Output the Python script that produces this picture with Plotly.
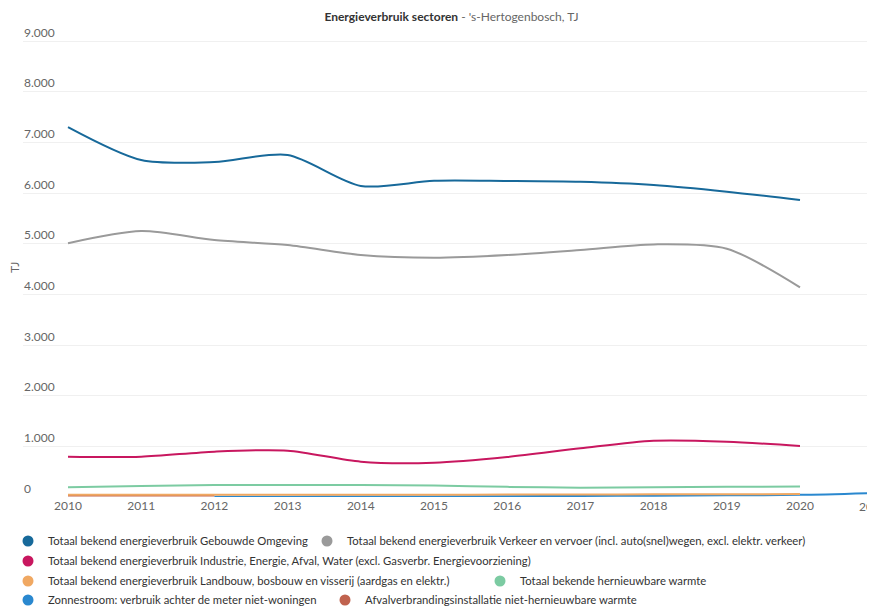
import plotly.graph_objects as go

years = [2010, 2011, 2012, 2013, 2014, 2015, 2016, 2017, 2018, 2019, 2020]
years_zon = [2012, 2013, 2014, 2015, 2016, 2017, 2018, 2019, 2020, 2021]
years_afval = [2010, 2011, 2012]

gebouwde = [7300, 6650, 6610, 6750, 6140, 6240, 6236, 6220, 6158, 6026, 5860]
verkeer = [5010, 5250, 5070, 4973, 4776, 4723, 4776, 4875, 4986, 4900, 4138]
industrie = [796, 796, 895, 914, 697, 677, 790, 960, 1111, 1092, 1006]
landbouw = [45, 45, 45, 45, 45, 45, 48, 50, 52, 55, 58]
hernieuwbaar = [190, 215, 235, 238, 235, 225, 200, 185, 190, 200, 205]
zonnestroom = [3, 6, 9, 12, 16, 20, 26, 33, 42, 80]
afval = [30, 30, 30]

x_ticks = [2010, 2011, 2012, 2013, 2014, 2015, 2016, 2017, 2018, 2019, 2020, 2021]

names = [
    "Totaal bekend energieverbruik Gebouwde Omgeving",
    "Totaal bekend energieverbruik Verkeer en vervoer (incl. auto(snel)wegen, excl. elektr. verkeer)",
    "Totaal bekend energieverbruik Industrie, Energie, Afval, Water (excl. Gasverbr. Energievoorziening)",
    "Totaal bekend energieverbruik Landbouw, bosbouw en visserij (aardgas en elektr.)",
    "Totaal bekende hernieuwbare warmte",
    "Zonnestroom: verbruik achter de meter niet-woningen",
    "Afvalverbrandingsinstallatie niet-hernieuwbare warmte",
]
colors = ["#17699a", "#9a9a9a", "#c8175f", "#f0a862", "#7ccba2", "#2a88cf", "#c0624e"]

series = [
    (years, gebouwde),
    (years, verkeer),
    (years, industrie),
    (years, landbouw),
    (years, hernieuwbaar),
    (years_zon, zonnestroom),
    (years_afval, afval),
]

FONT = "Lato"
OFF = 8  # page body margin of the browser
W, H = 875 - OFF, 606 - OFF
GRID_TOP, GRID_BOTTOM = 41 - OFF, 497 - OFF   # 9000 and 0 gridlines
PLOT_LEFT = 23 - OFF
ML, MR = PLOT_LEFT, 0
MT = 9
MB = H - GRID_BOTTOM
PX_PER_YEAR = 73.2
PX_PER_1000 = (GRID_BOTTOM - GRID_TOP) / 9.0
plot_h = H - MT - MB
plot_w = W - ML - MR

fig = go.Figure()

draw_order = [0, 1, 2, 6, 5, 3, 4]
for i in draw_order:
    xs, ys = series[i]
    fig.add_trace(go.Scatter(
        x=xs, y=ys, mode="lines", name=names[i],
        line=dict(color=colors[i], width=2, shape="spline", smoothing=0.8),
        showlegend=False,
    ))

# legend entry placement (page pixels of the marker centre, row centre)
legend_marker_x = [28, 327, 28, 28, 500, 28, 345]
legend_row_y = [541, 541, 561, 581, 581, 600, 600]
legend_ids = ["legend"] + ["legend%d" % (k + 1) for k in range(1, 7)]

for i in range(7):
    fig.add_trace(go.Scatter(
        x=[None], y=[None], mode="markers", name=names[i],
        marker=dict(color=colors[i], size=11, symbol="circle"),
        showlegend=True, legend=legend_ids[i],
    ))

layout_legends = {}
for i, lid in enumerate(legend_ids):
    layout_legends[lid] = dict(
        orientation="h", xanchor="left", yanchor="middle",
        xref="container", yref="container",
        x=(legend_marker_x[i] - OFF - 20) / W,
        y=1 - (legend_row_y[i] - OFF) / H,
        font=dict(family=FONT, size=11.3, color="#333333"),
        itemwidth=30, bgcolor="rgba(0,0,0,0)",
    )

x0 = 2010 - 45 / PX_PER_YEAR
fig.update_layout(
    width=W, height=H,
    margin=dict(l=ML, r=MR, t=MT, b=MB),
    paper_bgcolor="white", plot_bgcolor="white",
    separators=",.",
    font=dict(family=FONT, size=12, color="#666666"),
    title=dict(
        text="<b>Energieverbruik sectoren</b><span style='color:#666666'> - 's-Hertogenbosch, TJ</span>",
        x=0.5 + 2.5 / plot_w, xref="paper", xanchor="center",
        y=1 - (17 - OFF) / H, yref="container", yanchor="middle",
        font=dict(family=FONT, size=12, color="#333333"),
    ),
    xaxis=dict(
        range=[x0, x0 + plot_w / PX_PER_YEAR],
        tickmode="array", tickvals=x_ticks[:-1],
        showgrid=False, zeroline=False, showline=False, ticks="",
        tickfont=dict(family=FONT, size=12, color="#666666"),
    ),
    yaxis=dict(
        range=[0, 9000 + (GRID_TOP - MT) / PX_PER_1000 * 1000],
        tickmode="linear", tick0=0, dtick=1000,
        tickformat=",d", ticklabelposition="inside top", ticklabelstandoff=-2,
        showgrid=True, gridcolor="#f0f0f0", gridwidth=1,
        zeroline=False, showline=False, ticks="",
        tickfont=dict(family=FONT, size=12, color="#666666"),
    ),
    annotations=[
        dict(
            text="TJ", textangle=-90, x=(14 - OFF - ML) / plot_w, xref="paper", xanchor="center",
            y=(GRID_BOTTOM - (268 - OFF)) / plot_h, yref="paper", yanchor="middle", showarrow=False,
            font=dict(family=FONT, size=12, color="#666666"),
        ),
        dict(
            text=str(x_ticks[-1]), x=x_ticks[-1], xref="x", xanchor="center",
            y=(GRID_BOTTOM - (507 - OFF)) / plot_h, yref="paper", yanchor="middle", showarrow=False,
            font=dict(family=FONT, size=12, color="#666666"),
        ),
    ],
    hovermode="x",
    **layout_legends,
)

fig.write_html("out.html")
